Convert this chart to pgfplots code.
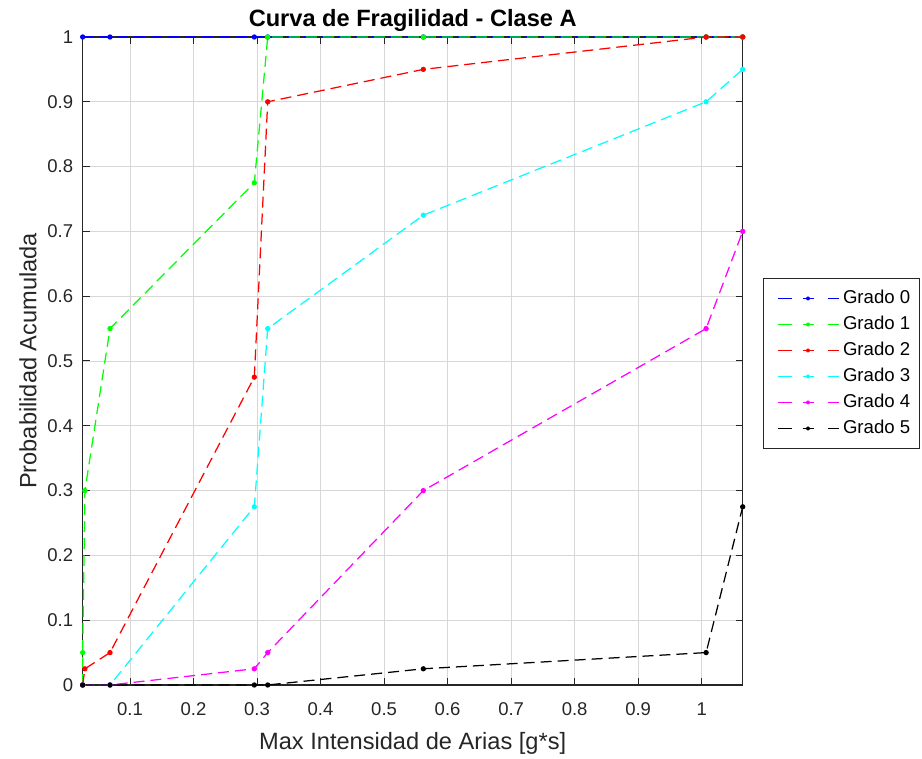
\documentclass[border=0pt]{standalone}
\usepackage{pgfplots}
\pgfplotsset{compat=1.18}
\usepackage{fontspec}
\setmainfont{Liberation Sans}
\definecolor{gridc}{RGB}{215,215,215}
\definecolor{axc}{RGB}{38,38,38}
\definecolor{cB}{RGB}{0,0,255}
\definecolor{cG}{RGB}{0,255,0}
\definecolor{cR}{RGB}{255,0,0}
\definecolor{cC}{RGB}{0,255,255}
\definecolor{cM}{RGB}{255,0,255}
\definecolor{cK}{RGB}{0,0,0}
\begin{document}
\begin{tikzpicture}[x=1pt,y=1pt]
\begin{axis}[
  name=ax,
  at={(0,0)}, anchor=south west,
  scale only axis, width=660pt, height=648pt,
  xmin=0.0255, xmax=1.0646, ymin=0, ymax=1,
  xtick={0.1,0.2,...,1.0}, ytick={0,0.1,...,1.0},
  xticklabels={0.1,0.2,0.3,0.4,0.5,0.6,0.7,0.8,0.9,1},
  yticklabels={0,0.1,0.2,0.3,0.4,0.5,0.6,0.7,0.8,0.9,1},
  tick align=inside, major tick length=7pt,
  tick style={axc, line width=1pt},
  axis line style={axc, line width=1.4pt},
  grid=major, major grid style={gridc, line width=0.9pt},
  ticklabel style={font=\fontsize{18.5}{22}\selectfont, text=axc},
  /pgf/number format/assume math mode=true,
  xticklabel style={yshift=-14pt},
  yticklabel style={xshift=-6pt},
  xlabel={Max Intensidad de Arias [g*s]},
  ylabel={Probabilidad Acumulada},
  label style={font=\fontsize{23.6}{28}\selectfont, text=axc},
  xlabel style={yshift=-10pt},
  ylabel style={yshift=4pt},
  title={Curva de Fragilidad - Clase A},
  title style={font=\fontsize{23.6}{28}\bfseries\selectfont, yshift=-4pt},
  clip=false,
  every axis plot/.append style={line width=1.25pt, dash pattern=on 11pt off 6pt, mark=*, mark size=2pt, mark options={solid}},
  legend image code/.code={\path[draw=none, fill=none] (0pt,-3pt) rectangle (66pt,3pt);
    \begin{scope}[#1]
    \draw[solid, line width=1pt] (5pt,0pt) -- (19pt,0pt);
    \draw[solid, line width=1pt] (30pt,0pt) -- (41pt,0pt);
    \draw[solid, line width=1pt] (55pt,0pt) -- (66pt,0pt);
    \fill[draw=none] (35.5pt,0pt) circle[radius=2pt];
    \end{scope}},
  legend style={at={(1,1)}, anchor=north west, xshift=20.3pt, yshift=-241pt,
    draw=axc, line width=1pt, font=\fontsize{18.6}{22}\selectfont,
    inner xsep=9pt, inner ysep=11pt, row sep=8pt, column sep=4pt,
    nodes={inner sep=0pt, text height=14pt, text depth=4pt}},
  legend cell align=left,
]
\addplot[cB] coordinates {(0.0255,1)(0.0685,1)(0.2957,1)(0.3168,1)(0.5618,1)(1.007,1)(1.0646,1)};
\addplot[cG] coordinates {(0.0255,0)(0.0255,0.05)(0.029,0.3)(0.0685,0.55)(0.2957,0.775)(0.3168,1)(0.5618,1)(1.007,1)(1.0646,1)};
\addplot[cR] coordinates {(0.0255,0)(0.029,0.025)(0.0685,0.05)(0.2957,0.475)(0.3168,0.9)(0.5618,0.95)(1.007,1)(1.0646,1)};
\addplot[cC] coordinates {(0.0255,0)(0.0685,0)(0.2957,0.275)(0.3168,0.55)(0.5618,0.725)(1.007,0.9)(1.0646,0.95)};
\addplot[cM] coordinates {(0.0255,0)(0.0685,0)(0.2957,0.025)(0.3168,0.05)(0.5618,0.3)(1.007,0.55)(1.0646,0.7)};
\addplot[cK] coordinates {(0.0255,0)(0.0685,0)(0.2957,0)(0.3168,0)(0.5618,0.025)(1.007,0.05)(1.0646,0.275)};
\legend{Grado 0,Grado 1,Grado 2,Grado 3,Grado 4,Grado 5}
\end{axis}
\pgfresetboundingbox
\path[use as bounding box] (-82.7pt,-74pt) rectangle (839.3pt,685pt);
\end{tikzpicture}
\end{document}
